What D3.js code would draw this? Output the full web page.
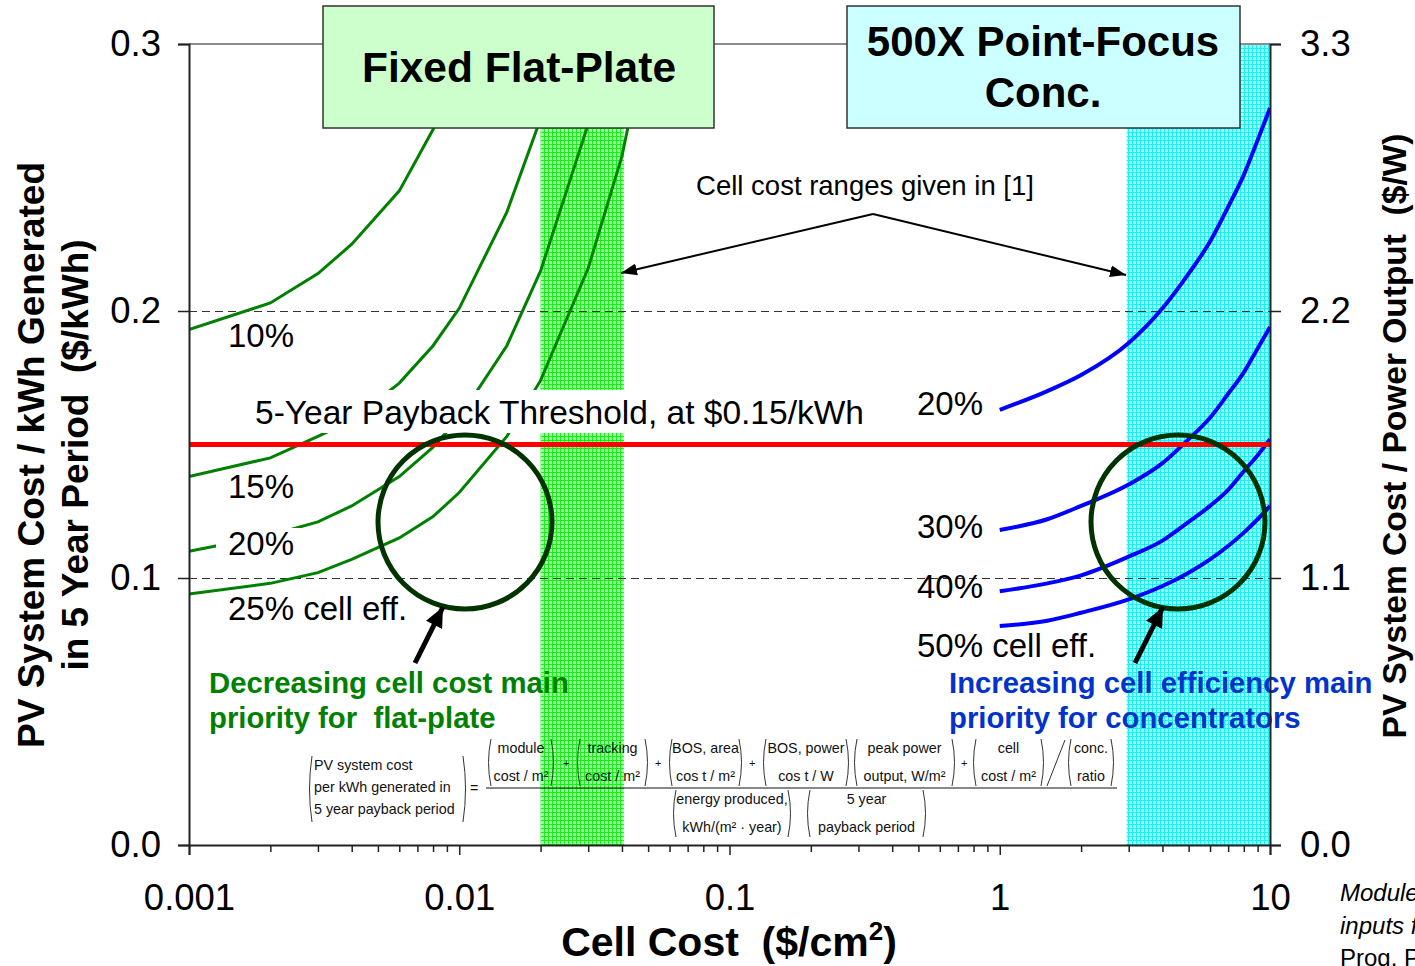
<!DOCTYPE html>
<html>
<head>
<meta charset="utf-8">
<script src="https://cdn.jsdelivr.net/npm/d3@7"></script>
<style>
  body { margin: 0; background: #fff; }
  svg { font-family: "Liberation Sans", Arial, sans-serif; }
  text { white-space: pre; }
</style>
</head>
<body>
<div id="chart"></div>
<script>
// flat-plate curves (cell cost $/cm2 -> $/kWh)
var flatCost = [0.001, 0.002, 0.003, 0.004, 0.006, 0.008, 0.01, 0.015, 0.02, 0.03, 0.04, 0.06];
var flat10 = [0.193, 0.203, 0.214, 0.225, 0.245, 0.268, 0.288, 0.341, 0.393, null, null, null];
var flat15 = [0.138, 0.145, 0.153, 0.159, 0.173, 0.187, 0.201, 0.237, 0.272, 0.343, null, null];
var flat20 = [0.110, 0.116, 0.121, 0.127, 0.138, 0.149, 0.160, 0.187, 0.215, 0.270, 0.325, null];
var flat25 = [0.094, 0.098, 0.102, 0.107, 0.115, 0.123, 0.132, 0.153, 0.174, 0.216, 0.258, 0.344];

// concentrator curves
var concCost = [1, 1.5, 2, 3, 4, 5, 6, 7, 8, 9, 10];
var conc20 = [0.163, 0.170, 0.176, 0.188, 0.201, 0.214, 0.226, 0.239, 0.251, 0.264, 0.276];
var conc30 = [0.118, 0.122, 0.127, 0.135, 0.143, 0.152, 0.160, 0.169, 0.177, 0.186, 0.194];
var conc40 = [0.095, 0.098, 0.101, 0.108, 0.114, 0.121, 0.127, 0.133, 0.140, 0.146, 0.152];
var conc50 = [0.082, 0.084, 0.087, 0.092, 0.097, 0.102, 0.107, 0.112, 0.117, 0.122, 0.127];

var flatLabels = ["10%", "15%", "20%", "25% cell eff."];
var flatLabelY = [0.1906, 0.1341, 0.1127, 0.0884];
var concLabels = ["20%", "30%", "40%", "50% cell eff."];
var concLabelY = [0.1652, 0.1191, 0.0966, 0.0745];

var threshold = 0.15;
var flatRange = [0.02, 0.04];
var concRange = [3, 10];

var xMajor = [0.001, 0.01, 0.1, 1, 10];
var yTicks = [0, 0.1, 0.2, 0.3];
var yRightTicks = [0, 1.1, 2.2, 3.3];

var W = 1415, H = 966;
var x = d3.scaleLog().domain([0.001, 10]).range([189, 1270]);
var y = d3.scaleLinear().domain([0, 0.3]).range([845, 44]);
var yR = d3.scaleLinear().domain([0, 3.3]).range([845, 44]);

var svg = d3.select("#chart").append("svg")
  .attr("width", W).attr("height", H);

var defs = svg.append("defs");
function gridPattern(id, bg, line) {
  var p = defs.append("pattern").attr("id", id)
    .attr("patternUnits", "userSpaceOnUse").attr("width", 4).attr("height", 4);
  p.append("rect").attr("width", 4).attr("height", 4).attr("fill", bg);
  p.append("path").attr("d", "M0,0.5H4M0.5,0V4").attr("stroke", line).attr("stroke-width", 1);
}
gridPattern("gridGreen", "#9dff9d", "#19f019");
gridPattern("gridCyan", "#9dffff", "#19f0f0");

defs.append("clipPath").attr("id", "plotClip")
  .append("rect").attr("x", 189).attr("y", 44).attr("width", 1081).attr("height", 801);

function marker(id, w, h) {
  defs.append("marker").attr("id", id)
    .attr("markerUnits", "userSpaceOnUse")
    .attr("viewBox", "0 0 " + w + " " + h)
    .attr("markerWidth", w).attr("markerHeight", h)
    .attr("refX", w).attr("refY", h / 2)
    .attr("orient", "auto")
    .append("path").attr("d", "M0,0L" + w + "," + (h / 2) + "L0," + h + "Z").attr("fill", "#000");
}
marker("arrowThin", 16, 12);
marker("arrowThick", 20, 18);

// bands
svg.append("rect")
  .attr("x", x(flatRange[0])).attr("y", y(0.3))
  .attr("width", x(flatRange[1]) - x(flatRange[0]) + 2).attr("height", y(0) - y(0.3))
  .attr("fill", "url(#gridGreen)");
svg.append("rect")
  .attr("x", x(concRange[0]) - 2).attr("y", y(0.3))
  .attr("width", x(concRange[1]) - x(concRange[0]) + 2).attr("height", y(0) - y(0.3))
  .attr("fill", "url(#gridCyan)");

// grid
svg.append("line").attr("x1", 189).attr("x2", 1270).attr("y1", y(0.3)).attr("y2", y(0.3))
  .attr("stroke", "#8c8c8c").attr("stroke-width", 2);
svg.selectAll(".grid").data([0.1, 0.2]).enter().append("line")
  .attr("x1", 189).attr("x2", 1270)
  .attr("y1", function (d) { return Math.round(y(d)) + 0.5; })
  .attr("y2", function (d) { return Math.round(y(d)) + 0.5; })
  .attr("stroke", "#333").attr("stroke-width", 1).attr("stroke-dasharray", "8,5");

// curves
var lineFlat = d3.line()
  .defined(function (d) { return d[1] != null; })
  .x(function (d) { return x(d[0]); })
  .y(function (d) { return y(d[1]); });
var lineConc = d3.line()
  .curve(d3.curveMonotoneX)
  .x(function (d) { return x(d[0]); })
  .y(function (d) { return y(d[1]); });

var curves = svg.append("g").attr("clip-path", "url(#plotClip)");
[flat10, flat15, flat20, flat25].forEach(function (s) {
  curves.append("path")
    .datum(flatCost.map(function (c, i) { return [c, s[i]]; }))
    .attr("d", lineFlat)
    .attr("fill", "none").attr("stroke", "#008000").attr("stroke-width", 3);
});
[conc20, conc30, conc40, conc50].forEach(function (s) {
  curves.append("path")
    .datum(concCost.map(function (c, i) { return [c, s[i]]; }))
    .attr("d", lineConc)
    .attr("fill", "none").attr("stroke", "#0000ff").attr("stroke-width", 4);
});

// threshold line
svg.append("line").attr("x1", 189).attr("x2", 1270)
  .attr("y1", y(threshold)).attr("y2", y(threshold))
  .attr("stroke", "#ff0000").attr("stroke-width", 5);

// threshold label with white background
svg.append("rect").attr("x", 245).attr("y", 390).attr("width", 635).attr("height", 43).attr("fill", "#fff");
svg.append("text").attr("x", 255).attr("y", 424)
  .style("font-size", "33.5px").text("5-Year Payback Threshold, at $0.15/kWh");

// curve labels
svg.append("rect").attr("x", 216).attr("y", 528).attr("width", 88).attr("height", 32).attr("fill", "#fff");
svg.selectAll(".flatLabel").data(flatLabels).enter().append("text")
  .attr("x", 228).attr("y", function (d, i) { return y(flatLabelY[i]) + 11; })
  .style("font-size", "33px").text(function (d) { return d; });
svg.selectAll(".concLabel").data(concLabels).enter().append("text")
  .attr("x", 917).attr("y", function (d, i) { return y(concLabelY[i]) + 11; })
  .style("font-size", "33px").text(function (d) { return d; });

// circles
[[465, 522], [1178, 522]].forEach(function (c) {
  svg.append("circle").attr("cx", c[0]).attr("cy", c[1]).attr("r", 87)
    .attr("fill", "none").attr("stroke", "#003300").attr("stroke-width", 5);
});

// thick arrows to circles
[[415, 663, 443, 607], [1135, 663, 1163, 607]].forEach(function (a) {
  svg.append("line").attr("x1", a[0]).attr("y1", a[1]).attr("x2", a[2]).attr("y2", a[3])
    .attr("stroke", "#000").attr("stroke-width", 5).attr("marker-end", "url(#arrowThick)");
});

// annotations
var green = svg.append("text").attr("fill", "#008000").style("font-size", "29.3px").style("font-weight", "bold");
green.append("tspan").attr("x", 209).attr("y", 693).text("Decreasing cell cost main");
green.append("tspan").attr("x", 209).attr("y", 728).text("priority for  flat-plate");
var blue = svg.append("text").attr("fill", "#0033cc").style("font-size", "29.3px").style("font-weight", "bold");
blue.append("tspan").attr("x", 949).attr("y", 693).text("Increasing cell efficiency main");
blue.append("tspan").attr("x", 949).attr("y", 728).text("priority for concentrators");

// cell cost range note
svg.append("text").attr("x", 865).attr("y", 195).attr("text-anchor", "middle")
  .style("font-size", "27.5px").text("Cell cost ranges given in [1]");
svg.append("line").attr("x1", 873).attr("y1", 214).attr("x2", 621).attr("y2", 273)
  .attr("stroke", "#000").attr("stroke-width", 2).attr("marker-end", "url(#arrowThin)");
svg.append("line").attr("x1", 873).attr("y1", 214).attr("x2", 1126).attr("y2", 275)
  .attr("stroke", "#000").attr("stroke-width", 2).attr("marker-end", "url(#arrowThin)");

// formula
var fg = svg.append("g").style("font-size", "14.3px").attr("fill", "#111");
function paren(x0, x1, top, bot) {
  fg.append("path").attr("d", "M" + (x0 + 5) + "," + top + "Q" + x0 + "," + ((top + bot) / 2) + " " + (x0 + 5) + "," + bot)
    .attr("fill", "none").attr("stroke", "#333").attr("stroke-width", 1);
  fg.append("path").attr("d", "M" + (x1 - 5) + "," + top + "Q" + x1 + "," + ((top + bot) / 2) + " " + (x1 - 5) + "," + bot)
    .attr("fill", "none").attr("stroke", "#333").attr("stroke-width", 1);
}
function pair(x0, x1, top, bot, a, b) {
  paren(x0, x1, top, bot);
  var cx = (x0 + x1) / 2;
  fg.append("text").attr("x", cx).attr("y", top + 14).attr("text-anchor", "middle").text(a);
  fg.append("text").attr("x", cx).attr("y", bot - 5).attr("text-anchor", "middle").text(b);
}
paren(307, 468, 756, 822);
fg.append("text").attr("x", 314).attr("y", 770).text("PV system cost");
fg.append("text").attr("x", 314).attr("y", 792).text("per kWh generated in");
fg.append("text").attr("x", 314).attr("y", 814).text("5 year payback period");
fg.append("text").attr("x", 470).attr("y", 793).text("=");
fg.append("line").attr("x1", 486).attr("x2", 1117).attr("y1", 788).attr("y2", 788)
  .attr("stroke", "#111").attr("stroke-width", 1);
pair(486, 556, 739, 786, "module", "cost / m²");
fg.append("text").attr("x", 563).attr("y", 767).style("font-size", "11px").text("+");
pair(575, 650, 739, 786, "tracking", "cost / m²");
fg.append("text").attr("x", 655).attr("y", 767).style("font-size", "11px").text("+");
pair(667, 744, 739, 786, "BOS, area", "cos t / m²");
fg.append("text").attr("x", 749).attr("y", 767).style("font-size", "11px").text("+");
pair(761, 851, 739, 786, "BOS, power", "cos t / W");
pair(852, 957, 739, 786, "peak power", "output, W/m²");
fg.append("text").attr("x", 961).attr("y", 767).style("font-size", "11px").text("+");
pair(971, 1046, 739, 786, "cell", "cost / m²");
fg.append("line").attr("x1", 1047).attr("y1", 786).attr("x2", 1065).attr("y2", 740)
  .attr("stroke", "#333").attr("stroke-width", 1);
pair(1066, 1116, 739, 786, "conc.", "ratio");
pair(671, 793, 790, 837, "energy produced,", "kWh/(m² · year)");
pair(805, 928, 790, 837, "5 year", "payback period");

// axes
var xAxis = svg.append("g").attr("transform", "translate(0,845)")
  .call(d3.axisBottom(x).tickValues(xMajor).tickSize(10).tickPadding(29)
    .tickFormat(function (d) { return d3.format("~g")(d); }));
var minors = [];
xMajor.slice(0, 4).forEach(function (m) { for (var k = 2; k <= 9; k++) minors.push(m * k); });
svg.append("g").attr("transform", "translate(0,845)")
  .call(d3.axisBottom(x).tickValues(minors).tickSize(7).tickFormat(""))
  .call(function (g) { g.select(".domain").remove(); });

var yAxis = svg.append("g").attr("transform", "translate(189,0)")
  .call(d3.axisLeft(y).tickValues(yTicks).tickSize(11).tickPadding(17).tickFormat(d3.format(".1f")));
var yAxisR = svg.append("g").attr("transform", "translate(1270,0)")
  .call(d3.axisRight(yR).tickValues(yRightTicks).tickSize(11).tickPadding(19).tickFormat(d3.format(".1f")));

[xAxis, yAxis, yAxisR].forEach(function (g) {
  g.selectAll("text").style("font-size", "36.5px").style("font-family", "Liberation Sans, Arial, sans-serif").attr("fill", "#000");
  g.select(".domain").attr("stroke", "#222").attr("stroke-width", 2);
});
svg.selectAll(".tick line").attr("stroke", "#222").attr("stroke-width", 1.5);

// boxes (over the curves)
svg.append("rect").attr("x", 323).attr("y", 6).attr("width", 391).attr("height", 122)
  .attr("fill", "#ccffcc").attr("stroke", "#333").attr("stroke-width", 1.5);
svg.append("text").attr("x", 519).attr("y", 82).attr("text-anchor", "middle")
  .style("font-size", "42.5px").style("font-weight", "bold").text("Fixed Flat-Plate");
svg.append("rect").attr("x", 847).attr("y", 6).attr("width", 393).attr("height", 122)
  .attr("fill", "#ccffff").attr("stroke", "#333").attr("stroke-width", 1.5);
var ct = svg.append("text").attr("text-anchor", "middle")
  .style("font-size", "42px").style("font-weight", "bold");
ct.append("tspan").attr("x", 1043).attr("y", 56).text("500X Point-Focus");
ct.append("tspan").attr("x", 1043).attr("y", 107).text("Conc.");

// axis titles
var xt = svg.append("text").attr("x", 729).attr("y", 956).attr("text-anchor", "middle")
  .style("font-size", "41px").style("font-weight", "bold");
xt.append("tspan").text("Cell Cost  ($/cm");
xt.append("tspan").attr("dy", -16).style("font-size", "26px").text("2");
xt.append("tspan").attr("dy", 16).text(")");

var yl = svg.append("text").attr("transform", "translate(0,455) rotate(-90)")
  .attr("text-anchor", "middle").style("font-size", "37px").style("font-weight", "bold");
yl.append("tspan").attr("x", 0).attr("y", 44).text("PV System Cost / kWh Generated");
yl.append("tspan").attr("x", 0).attr("y", 88).text("in 5 Year Period  ($/kWh)");

svg.append("text").attr("transform", "translate(1406,436) rotate(-90)")
  .attr("text-anchor", "middle").style("font-size", "33.5px").style("font-weight", "bold")
  .text("PV System Cost / Power Output  ($/W)");

// cut-off source note at right edge
var src = svg.append("g").style("font-size", "24px");
src.append("text").attr("x", 1340).attr("y", 901).style("font-style", "italic").text("Module and system cost");
src.append("text").attr("x", 1340).attr("y", 934).style("font-style", "italic").text("inputs from");
src.append("text").attr("x", 1340).attr("y", 966).text("Prog. Photovolt.");
</script>
</body>
</html>
